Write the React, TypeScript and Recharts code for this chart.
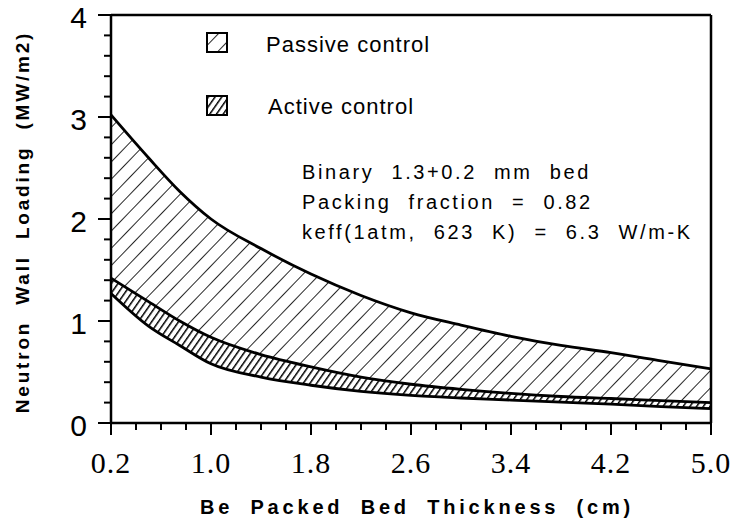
import React from 'react'
import { ComposedChart, Area, Line, XAxis, YAxis, ReferenceLine } from 'recharts'

const thickness = [0.2, 0.5, 0.75, 1.0, 1.4, 1.8, 2.2, 2.6, 3.0, 3.4, 3.8, 4.2, 4.6, 5.0]
const passiveUpper = [3.02, 2.6, 2.27, 2.0, 1.71, 1.46, 1.25, 1.08, 0.96, 0.85, 0.76, 0.69, 0.61, 0.53]
const activeUpper = [1.42, 1.19, 1.0, 0.84, 0.67, 0.55, 0.45, 0.38, 0.33, 0.29, 0.26, 0.24, 0.22, 0.2]
const activeLower = [1.27, 0.95, 0.76, 0.58, 0.45, 0.37, 0.31, 0.27, 0.245, 0.225, 0.205, 0.185, 0.16, 0.14]

const xMajor = [0.2, 1.0, 1.8, 2.6, 3.4, 4.2, 5.0]
const xTicks = Array.from({ length: 25 }, (_, i) => Math.round((0.2 + i * 0.2) * 10) / 10)
const yMajor = [0, 1, 2, 3, 4]
const yTicks = Array.from({ length: 21 }, (_, i) => Math.round(i * 2) / 10)

const notes = ['Binary 1.3+0.2 mm bed', 'Packing fraction = 0.82', 'keff(1atm, 623 K) = 6.3 W/m-K']

const data = thickness.map((t, i) => ({
  t,
  passive: [activeUpper[i], passiveUpper[i]],
  active: [activeLower[i], activeUpper[i]],
  up: passiveUpper[i],
  mid: activeUpper[i],
  low: activeLower[i],
}))

const sans = 'Liberation Sans, Arial, sans-serif'

const XTick = (props: any) => {
  const { x, y, payload } = props
  const v = Math.round(payload.value * 10) / 10
  const major = xMajor.includes(v)
  return (
    <g>
      <line x1={x} y1={y} x2={x} y2={y + (major ? 12 : 7)} stroke="#000" strokeWidth={2} />
      {major && (
        <text x={x} y={y + 50} textAnchor="middle" fontFamily="Liberation Serif, serif" fontSize={30} letterSpacing={1}>
          {v.toFixed(1)}
        </text>
      )}
    </g>
  )
}

const YTick = (props: any) => {
  const { x, y, payload } = props
  const v = Math.round(payload.value * 10) / 10
  const major = yMajor.includes(v)
  return (
    <g>
      <line x1={x} y1={y} x2={x - (major ? 13 : 7)} y2={y} stroke="#000" strokeWidth={2} />
      {major && (
        <text x={x - 24} y={y + 13} textAnchor="end" fontFamily="Liberation Sans Narrow, Liberation Sans, sans-serif" fontSize={30}>
          {v}
        </text>
      )}
    </g>
  )
}

export default function App() {
  return (
    <div style={{ position: 'absolute', left: 0, top: 0, background: '#fff' }}>
      <ComposedChart width={735} height={529} data={data} margin={{ top: 15, right: 24, bottom: 0, left: 0 }}>
        <defs>
          <pattern id="passiveHatch" width={12} height={12} patternUnits="userSpaceOnUse" patternTransform="rotate(44)">
            <line x1={0} y1={0} x2={0} y2={12} stroke="#000" strokeWidth={1.7} />
          </pattern>
          <pattern id="activeHatch" width={5.5} height={5.5} patternUnits="userSpaceOnUse" patternTransform="rotate(35)">
            <line x1={0} y1={0} x2={0} y2={5.5} stroke="#000" strokeWidth={3} />
          </pattern>
        </defs>
        <XAxis
          dataKey="t"
          type="number"
          domain={[0.2, 5.0]}
          ticks={xTicks}
          interval={0}
          tick={<XTick />}
          tickSize={0}
          tickMargin={0}
          height={106}
          axisLine={{ stroke: '#000', strokeWidth: 2.5 }}
        />
        <YAxis
          type="number"
          domain={[0, 4]}
          ticks={yTicks}
          interval={0}
          tick={<YTick />}
          tickSize={0}
          tickMargin={0}
          width={111}
          axisLine={{ stroke: '#000', strokeWidth: 2.5 }}
        />
        <ReferenceLine y={4} stroke="#000" strokeWidth={2.5} />
        <ReferenceLine x={5} stroke="#000" strokeWidth={2.5} />
        <Area dataKey="passive" type="monotone" stroke="none" fill="url(#passiveHatch)" fillOpacity={1} isAnimationActive={false} />
        <Area dataKey="active" type="monotone" stroke="none" fill="url(#activeHatch)" fillOpacity={1} isAnimationActive={false} />
        <Line dataKey="up" type="monotone" stroke="#000" strokeWidth={2.8} dot={false} isAnimationActive={false} />
        <Line dataKey="mid" type="monotone" stroke="#000" strokeWidth={2.8} dot={false} isAnimationActive={false} />
        <Line dataKey="low" type="monotone" stroke="#000" strokeWidth={2.8} dot={false} isAnimationActive={false} />
        <g>
          <text x={417} y={514} textAnchor="middle" fontFamily={sans} fontWeight="bold" fontSize={20} letterSpacing={3.8} wordSpacing={8} style={{ whiteSpace: 'pre' }}>
            Be Packed Bed Thickness (cm)
          </text>
          <text x={29} y={222} textAnchor="middle" transform="rotate(-90 29 222)" fontFamily={sans} fontWeight="bold" fontSize={19} letterSpacing={2.8} wordSpacing={8} style={{ whiteSpace: 'pre' }}>
            Neutron Wall Loading (MW/m2)
          </text>
          <rect x={207} y={33} width={20} height={19} fill="url(#passiveHatch)" stroke="#000" strokeWidth={2} />
          <text x={266} y={52} fontFamily={sans} fontSize={22} letterSpacing={1}>Passive control</text>
          <rect x={207} y={96} width={20} height={19} fill="url(#activeHatch)" stroke="#000" strokeWidth={2} />
          <text x={268} y={114} fontFamily={sans} fontSize={22} letterSpacing={1}>Active control</text>
          {notes.map((n, i) => (
            <text key={n} x={302} y={179 + i * 30} fontFamily={sans} fontSize={20} letterSpacing={2.6} wordSpacing={9} style={{ whiteSpace: 'pre' }}>
              {n}
            </text>
          ))}
        </g>
      </ComposedChart>
    </div>
  )
}
